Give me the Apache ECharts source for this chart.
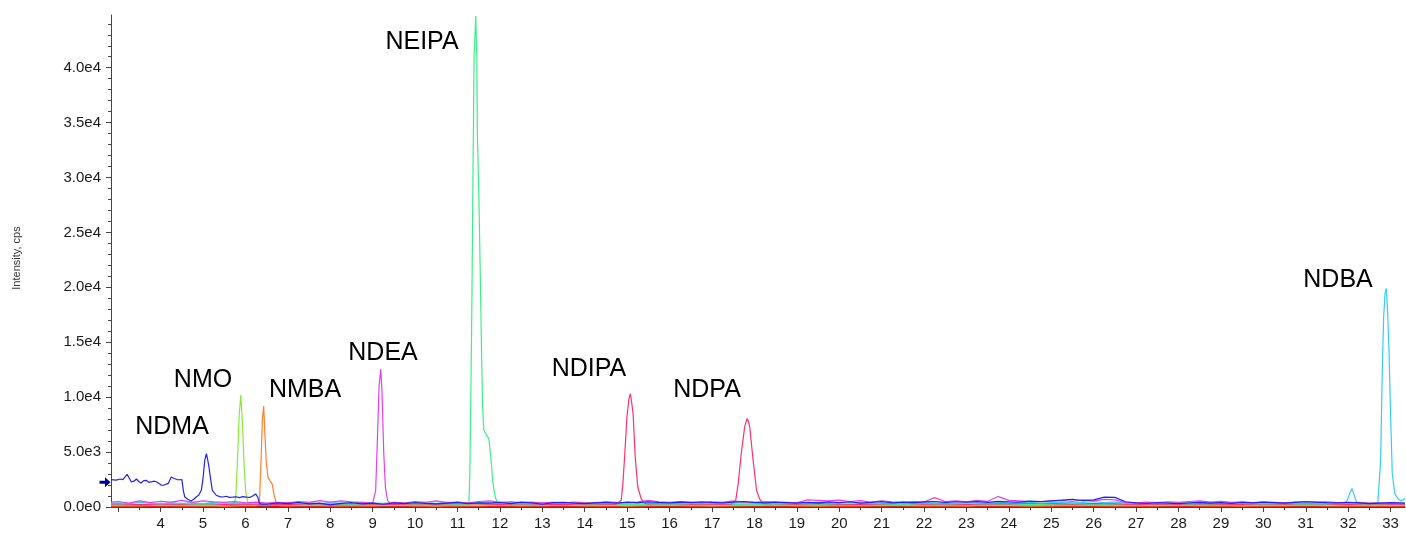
<!DOCTYPE html>
<html>
<head>
<meta charset="utf-8">
<script src="https://cdn.jsdelivr.net/npm/echarts@6/dist/echarts.min.js"></script>
<style>
  html, body { margin: 0; padding: 0; background: #fff; }
  #chart { width: 1406px; height: 533px; }
</style>
</head>
<body>
<div id="chart"></div>
<script>
// retention time grids (min) for the baseline noise
const fineTimes = [2.83,
  3, 3.25, 3.5, 3.75, 4, 4.25, 4.5, 4.75, 5, 5.25,
  5.5, 5.75, 6, 6.25, 6.5, 6.75, 7, 7.25, 7.5, 7.75,
  8, 8.25, 8.5, 8.75, 9, 9.25, 9.5, 9.75, 10, 10.25,
  10.5, 10.75, 11, 11.25, 11.5, 11.75, 12, 12.25, 12.5, 12.75,
  13, 13.25, 13.5, 13.75, 14, 14.25, 14.5, 14.75, 15, 15.25,
  15.5, 15.75, 16, 16.25, 16.5, 16.75, 17, 17.25, 17.5, 17.75,
  18, 18.25, 18.5, 18.75, 19, 19.25, 19.5, 19.75, 20, 20.25,
  20.5, 20.75, 21, 21.25, 21.5, 21.75, 22, 22.25, 22.5, 22.75,
  23, 23.25, 23.5, 23.75, 24, 24.25, 24.5, 24.75, 25, 25.25,
  25.5, 25.75, 26, 26.25, 26.5, 26.75, 27, 27.25, 27.5, 27.75,
  28, 28.25, 28.5, 28.75, 29, 29.25, 29.5, 29.75, 30, 30.25,
  30.5, 30.75, 31, 31.25, 31.5, 31.75, 32, 32.25, 32.5, 32.75,
  33, 33.25,
  33.34]
const coarseTimes = [2.83,
  3, 3.5, 4, 4.5, 5, 5.5, 6, 6.5, 7, 7.5,
  8, 8.5, 9, 9.5, 10, 10.5, 11, 11.5, 12, 12.5,
  13, 13.5, 14, 14.5, 15, 15.5, 16, 16.5, 17, 17.5,
  18, 18.5, 19, 19.5, 20, 20.5, 21, 21.5, 22, 22.5,
  23, 23.5, 24, 24.5, 25, 25.5, 26, 26.5, 27, 27.5,
  28, 28.5, 29, 29.5, 30, 30.5, 31, 31.5, 32, 32.5,
  33,
  33.34]

// baseline intensities (cps), aligned with the grids above
const ndmaBase = [null,
  null, null, null, null, null, null, null, null, null, null,
  null, null, null, null, 250, 380, 300, 420, 280, 350,
  200, 330, 400, 280, 350, 250, 380, 300, 400, 330,
  280, 360, 420, 300, 380, 350, 420, 300, 450, 380,
  250, 400, 430, 350, 300, 380, 420, 360, 450, 400,
  480, 420, 380, 450, 400, 470, 420, 380, 450, 500,
  420, 380, 450, 400, 350, 430, 380, 460, 400, 480,
  350, 420, 500, 380, 440, 400, 460, 500, 420, 480,
  450, 500, 430, 520, 480, 450, 540, 500, 560, 620,
  700, 580, 650, 900, 880, 480, 380, 320, 400, 350,
  300, 380, 420, 350, 400, 330, 420, 380, 450, 400,
  350, 420, 480, 450, 400, 380, 420, 380, 300, 350,
  400, 380,
  360]
const ndeaBase = [450,
  500, 350, 550, 400, 520, 450, 600, 420, 550, 480,
  420, 500, 380, 450, 350, 420, 380, 500, 420, 580,
  450, 550, 480, 420, 350, 400, 420, 380, 500, 420,
  560, 400, 450, 380, 500, 550, 420, 480, 400, 450,
  380, 420, 350, 450, 400, 380, 480, 420, 380, 450,
  600, 480, 420, 500, 450, 380, 480, 420, 550, 450,
  420, 500, 450, 420, 380, 650, 600, 550, 620, 500,
  580, 450, 550, 480, 420, 500, 450, 850, 500, 550,
  480, 600, 520, 950, 600, 550, 500, 480, 550, 600,
  500, 650, 550, 700, 650, 420, 380, 450, 400, 480,
  420, 500, 550, 450, 520, 420, 480, 400, 450, 420,
  380, 450, 500, 420, 480, 400, 380, 420, 350, 380,
  300, 280,
  300]
const ndbaBase = [350,
  380, 300, 420, 350, 280, 400, 330, 380, 300, 420,
  350, 400, 320, 380, 300, 350, 420, 330, 380, 300,
  400, 350, 300, 420, 380, 330, 400, 350, 300, 380,
  330, 420, 350, 300, 400, 380, 330, 420, 350, 300,
  380, 330, 400, 300, 350, 420, 380, 330, 400, 350,
  420, 380, 330, 400, 350, 300, 380, 420, 350, 400,
  330, 380, 300, 350, 420, 380, 450, 400, 350, 420,
  380, 330, 400, 350, 300, 380, 420, 350, 400, 330,
  380, 420, 350, 400, 450, 380, 420, 350, 400, 450,
  380, 420, 480, 400, 450, 350, 300, 380, 330, 400,
  350, 300, 380, 420, 350, 400, 330, 380, 300, 350,
  400, 330, 380, 350, 300, 380, null, null, null, null,
  null, null,
  null]
const nmoBase = [210,
  200, 250, 180, 220, 150, 200, 190, 180, 220, 160,
  200, 250, 180, 150, 220, 180, 200, 150, 230, 180,
  200, 160, 220, 190, 150, 210, 180, 230, 170, 200,
  150, 220, 180, 200, 250, 170, 210, 160, 200, 230,
  180, 200, 150, 220, 190, 240, 200, 170, 210, 150,
  200, 180, 230, 160, 200, 180, 220, 150, 200, 180,
  160,
  170]
const nmbaBase = [110,
  120, 90, 140, 100, 130, 80, 120, 100, 110, 140,
  90, 130, 100, 150, 110, 80, 130, 100, 140, 90,
  120, 150, 100, 130, 80, 120, 140, 100, 130, 90,
  120, 150, 110, 80, 130, 100, 140, 120, 90, 130,
  100, 140, 120, 80, 110, 150, 130, 100, 120, 90,
  140, 110, 130, 80, 120, 100, 140, 110, 90, 130,
  100,
  110]
const neipaBase = [240,
  250, 200, 280, 230, 180, 260, 210, 290, 240, 200,
  270, 220, 180, 250, 300, 230, 270, 210, 250, 200,
  280, 230, 190, 260, 220, 290, 240, 200, 270, 230,
  260, 200, 240, 290, 220, 260, 190, 250, 280, 220,
  250, 200, 270, 230, 290, 240, 210, 270, 230, 190,
  250, 220, 280, 240, 200, 260, 230, 270, 210, 240,
  220,
  230]
const ndipaBase = [280,
  300, 220, 280, 250, 320, 240, 290, 260, 220, 300,
  250, 320, 270, 230, 300, 260, 330, 280, 240, 310,
  270, 220, 300, 260, 300, 280, 330, 250, 290, 240,
  300, 300, 250, 320, 270, 230, 290, 340, 260, 300,
  240, 310, 280, 350, 300, 260, 320, 280, 230, 290,
  250, 310, 270, 230, 300, 260, 320, 280, 240, 300,
  260,
  270]
const redBase = [40,
  50, 30, 65, 40, 75, 25, 55, 80, 35, 60,
  30, 45, 70, 40, 55, 20, 60, 85, 45, 50,
  35, 55, 75, 30, 65, 40, 50, 70, 25, 60,
  40, 55, 80, 35, 60, 30, 45, 75, 50, 65,
  25, 55, 70, 45, 60, 35, 50, 85, 40, 55,
  30, 60, 75, 40, 50, 35, 65, 80, 45, 55,
  50,
  40]
const greenBase = [150,
  160, 130, 180, 140, 200, 150, 170, 120, 190, 150,
  140, 180, 160, 130, 200, 150, 170, 140, 190, 160,
  130, 180, 150, 200, 160, 140, 190, 150, 170, 130,
  180, 160, 140, 200, 150, 170, 130, 190, 160, 180,
  150, 200, 140, 170, 160, 130, 190, 150, 180, 140,
  170, 150, 190, 130, 180, 160, 200, 140, 170, 150,
  160,
  150]

// peak regions [time, cps]
const ndmaPeak = [[2.83, 2500], [2.95, 2450], [3.05, 2550], [3.11, 2500], [3.21, 2980], [3.31, 2280], [3.37, 2350],
  [3.43, 2550], [3.49, 2300], [3.54, 2190], [3.60, 2400], [3.66, 2430], [3.72, 2250], [3.78, 2280], [3.84, 2350],
  [3.90, 2300], [3.96, 2150], [4.02, 1980], [4.08, 2000], [4.12, 1820], [4.18, 2150], [4.25, 2730], [4.32, 2600],
  [4.39, 2500], [4.45, 2480], [4.50, 2500], [4.54, 1400], [4.57, 910], [4.64, 700], [4.72, 550], [4.78, 700],
  [4.84, 910], [4.90, 1100], [4.96, 1520], [5.00, 2600], [5.04, 4250], [5.08, 4850], [5.11, 4300], [5.14, 3640],
  [5.18, 2500], [5.22, 1520], [5.31, 1070], [5.39, 950], [5.47, 910], [5.55, 980], [5.62, 880], [5.70, 900],
  [5.78, 930], [5.86, 860], [5.94, 940], [6.02, 900], [6.10, 870], [6.17, 1000], [6.24, 1190], [6.29, 900],
  [6.33, 310], [6.40, 250]]
const nmoPeak = [[5.62, 200], [5.72, 300], [5.77, 800], [5.81, 4000], [5.85, 8200], [5.89, 10200], [5.93, 7600],
  [5.97, 3600], [6.01, 1300], [6.05, 500], [6.12, 220]]
const nmbaPeak = [[6.25, 120], [6.33, 400], [6.37, 4500], [6.40, 8000], [6.43, 9200], [6.46, 6500], [6.49, 4200],
  [6.53, 2700], [6.57, 2430], [6.63, 2100], [6.68, 1000], [6.73, 350], [6.80, 130]]
const ndeaPeak = [[9.02, 350], [9.07, 1500], [9.11, 6000], [9.15, 11000], [9.19, 12550], [9.22, 10500],
  [9.26, 5000], [9.30, 1800], [9.35, 600], [9.40, 380]]
const neipaPeak = [[11.15, 250], [11.27, 400], [11.29, 3000], [11.30, 6000], [11.317, 11000], [11.34, 19000],
  [11.364, 30000], [11.39, 41000], [11.43, 44700], [11.455, 41000], [11.468, 34000], [11.505, 28000],
  [11.54, 20500], [11.566, 14300], [11.59, 9300], [11.62, 7000], [11.68, 6600], [11.74, 6200], [11.79, 4300],
  [11.83, 2430], [11.87, 1300], [11.90, 765], [11.95, 400], [12.05, 250]]
const ndipaPeak = [[14.75, 260], [14.86, 610], [14.90, 2200], [14.94, 4550], [14.995, 8200], [15.04, 9800],
  [15.075, 10330], [15.10, 9700], [15.14, 8500], [15.19, 4550], [15.25, 1820], [15.33, 765], [15.40, 350],
  [15.45, 300]]
const ndpaPeak = [[17.45, 250], [17.56, 610], [17.62, 2200], [17.69, 4860], [17.77, 7290], [17.825, 8050],
  [17.86, 7800], [17.89, 7290], [17.97, 4250], [18.05, 1520], [18.12, 765], [18.20, 300]]
const ndbaPeak = [[31.90, 320], [31.98, 600], [32.04, 1300], [32.09, 1680], [32.14, 1100], [32.20, 400],
  [32.30, 330], [32.45, 350], [32.60, 330], [32.70, 400], [32.73, 455], [32.766, 4250], [32.806, 12750],
  [32.837, 17300], [32.87, 19500], [32.90, 19900], [32.93, 17800], [32.96, 14570], [33.0, 8500],
  [33.04, 3040], [33.10, 1220], [33.17, 770], [33.23, 600], [33.29, 620], [33.34, 800]]

const compounds = ['NDMA', 'NMO', 'NMBA', 'NDEA', 'NEIPA', 'NDIPA', 'NDPA', 'NDBA']
const xLabels = [4, 5, 6, 7, 8, 9, 10, 11, 12, 13, 14, 15, 16, 17, 18, 19, 20, 21, 22, 23, 24, 25, 26, 27, 28, 29, 30, 31, 32, 33]
const xMinor = [3.5, 4.5, 5.5, 6.5, 7.5, 8.5, 9.5, 10.5, 11.5, 12.5, 13.5, 14.5, 15.5, 16.5, 17.5, 18.5, 19.5, 20.5,
  21.5, 22.5, 23.5, 24.5, 25.5, 26.5, 27.5, 28.5, 29.5, 30.5, 31.5, 32.5]
const yLabels = [0, 5000, 10000, 15000, 20000, 25000, 30000, 35000, 40000]
const yMinor = [1000, 2000, 3000, 4000, 6000, 7000, 8000, 9000, 11000, 12000, 13000, 14000, 16000, 17000, 18000,
  19000, 21000, 22000, 23000, 24000, 26000, 27000, 28000, 29000, 31000, 32000, 33000, 34000, 36000, 37000,
  38000, 39000, 41000, 42000, 43000, 44000]

// drop baseline points that fall inside a peak region, then merge
function buildTrace(times, base, peaks) {
  const pts = []
  times.forEach((t, i) => {
    const v = base[i]
    if (v == null) return
    if (peaks.some(p => t >= p[0][0] && t <= p[p.length - 1][0])) return
    pts.push([t, v])
  })
  peaks.forEach(p => p.forEach(d => pts.push(d)))
  return pts.sort((a, b) => a[0] - b[0])
}

const traces = [
  { name: 'red', color: '#dd1111', data: buildTrace(coarseTimes, redBase, []) },
  { name: 'green', color: '#11aa11', data: buildTrace(coarseTimes, greenBase, []) },
  { name: 'NMBA', color: '#ff7f2a', data: buildTrace(coarseTimes, nmbaBase, [nmbaPeak]) },
  { name: 'NMO', color: '#88e83a', data: buildTrace(coarseTimes, nmoBase, [nmoPeak]) },
  { name: 'NEIPA', color: '#3cef88', data: buildTrace(coarseTimes, neipaBase, [neipaPeak]) },
  { name: 'NDIPA', color: '#ff2f70', data: buildTrace(coarseTimes, ndipaBase, [ndipaPeak, ndpaPeak]) },
  { name: 'NDBA', color: '#35ccf5', data: buildTrace(fineTimes, ndbaBase, [ndbaPeak]) },
  { name: 'NDEA', color: '#e040f0', data: buildTrace(fineTimes, ndeaBase, [ndeaPeak]) },
  { name: 'NDMA', color: '#2222ee', data: buildTrace(fineTimes, ndmaBase, [ndmaPeak]) }
]

// label centres in px
const labelPx = [[172, 427], [203, 380], [305, 390], [383, 353], [422, 42], [589, 369], [707, 390], [1338, 280]]

const xMin = 2.83
const xMax = 33.34
const axisColor = '#444'
const fontFamily = 'Liberation Sans, Arial, sans-serif'

function sci(v) {
  if (v === 0) return '0.0e0'
  const e = Math.floor(Math.log10(v))
  return (v / Math.pow(10, e)).toFixed(1) + 'e' + e
}

const chart = echarts.init(document.getElementById('chart'))
const option = {
  animation: false,
  backgroundColor: '#fff',
  grid: { left: 111, right: 1, top: 15, bottom: 26, containLabel: false },
  xAxis: [
    {
      type: 'value', min: xMin, max: xMax,
      splitLine: { show: false },
      axisLine: { lineStyle: { color: axisColor, width: 1 } },
      axisTick: { length: 5, customValues: [3].concat(xLabels), lineStyle: { color: axisColor } },
      axisLabel: { customValues: xLabels, color: '#1a1a1a', fontSize: 15, fontFamily, margin: 9 }
    },
    {
      type: 'value', min: xMin, max: xMax, position: 'bottom',
      splitLine: { show: false },
      axisLine: { show: false },
      axisTick: { length: 3, customValues: xMinor, lineStyle: { color: axisColor } },
      axisLabel: { show: false }
    }
  ],
  yAxis: [
    {
      type: 'value', min: 0, max: 44800,
      splitLine: { show: false },
      axisLine: { show: true, lineStyle: { color: axisColor, width: 1 } },
      axisTick: { show: true, length: 5, customValues: yLabels, lineStyle: { color: axisColor } },
      axisLabel: { customValues: yLabels, formatter: sci, color: '#1a1a1a', fontSize: 15, fontFamily, margin: 10 }
    },
    {
      type: 'value', min: 0, max: 44800, position: 'left',
      splitLine: { show: false },
      axisLine: { show: false },
      axisTick: { show: true, length: 3, customValues: yMinor, lineStyle: { color: axisColor } },
      axisLabel: { show: false }
    }
  ],
  series: traces.map(tr => ({
    name: tr.name,
    type: 'line',
    data: tr.data,
    showSymbol: false,
    symbol: 'none',
    silent: true,
    clip: true,
    lineStyle: { color: tr.color, width: 1.2 },
    itemStyle: { color: tr.color },
    markPoint: tr.name === 'NDMA' ? {
      silent: true,
      symbol: 'path://M0,3.5 L5,3.5 L5,0 L10,5 L5,10 L5,6.5 L0,6.5 Z',
      symbolSize: [11, 10],
      symbolOffset: [-6, 0],
      itemStyle: { color: '#0000a0' },
      label: { show: false },
      data: [{ coord: [xMin, 2250] }]
    } : undefined
  })),
  graphic: compounds.map((name, i) => ({
    type: 'text',
    x: labelPx[i][0],
    y: labelPx[i][1],
    silent: true,
    style: {
      text: name,
      fill: '#000',
      fontSize: 25,
      fontFamily,
      align: 'center',
      verticalAlign: 'middle'
    }
  })).concat([{
    type: 'text',
    x: 17,
    y: 258,
    rotation: Math.PI / 2,
    silent: true,
    style: {
      text: 'Intensity, cps',
      fill: '#333',
      fontSize: 11,
      fontFamily,
      align: 'center',
      verticalAlign: 'middle'
    }
  }])
}
chart.setOption(option)
</script>
</body>
</html>
